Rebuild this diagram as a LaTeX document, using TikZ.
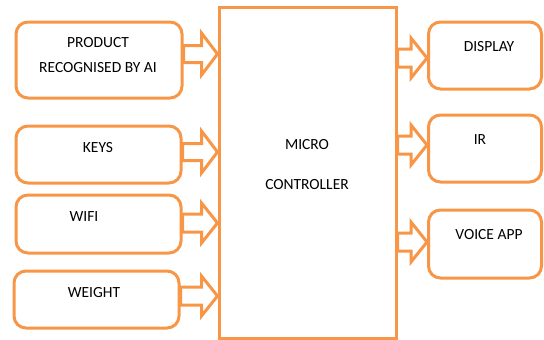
\documentclass[tikz,border=0pt]{standalone}
\usepackage{fontspec}
\setmainfont{Carlito}
\usetikzlibrary{calc}
\definecolor{org}{RGB}{247,150,70}
\newcommand\barrow[4]{% start, tip, head half-height, shaft half-height
  \draw[barrow] ($(#1)+(0,-#4)$) -- ($(#2)+(-16,-#4)$) -- ($(#2)+(-16,-#3)$) -- (#2)
    -- ($(#2)+(-16,#3)$) -- ($(#2)+(-16,#4)$) -- ($(#1)+(0,#4)$) -- cycle;}
\begin{document}
\begin{tikzpicture}[x=1pt,y=-1pt,
  box/.style={draw=org, line width=3pt, rounded corners=12pt, inner sep=0pt},
  lbl/.style={font=\fontsize{15.5}{25}\selectfont, text=black, inner sep=0pt, align=center},
  barrow/.style={draw=org, line width=3pt, line join=miter}]
\useasboundingbox (0,0) rectangle (544,340);
% boxes
\node[box, minimum width=166, minimum height=76] (prod) at (99,60) {};
\node[box, minimum width=165, minimum height=57] (keys) at (98.5,154.5) {};
\node[box, minimum width=165, minimum height=58] (wifi) at (98.5,224) {};
\node[box, minimum width=165, minimum height=57] (weight) at (96.5,299.5) {};
\node[draw=org, line width=3pt, minimum width=177, minimum height=331, inner sep=0pt] (mcu) at (307.5,172.5) {};
\node[box, minimum width=113, minimum height=67] (disp) at (485,55.5) {};
\node[box, minimum width=113, minimum height=67] (ir) at (485,148.5) {};
\node[box, minimum width=113, minimum height=68] (voice) at (485,244) {};
% labels
\node[lbl] (tprod) at (98,55.5) {PRODUCT\\RECOGNISED BY AI};
\node[lbl] (tkeys) at (98,148) {KEYS};
\node[lbl] (twifi) at (84,217) {WIFI};
\node[lbl] (tweight) at (94,293) {WEIGHT};
\node[lbl] (tmcu) at (307,164.5) {MICRO\\[15pt]CONTROLLER};
\node[lbl] (tdisp) at (489,47) {DISPLAY};
\node[lbl] (tir) at (480,140) {IR};
\node[lbl] (tvoice) at (489,235) {VOICE APP};
% arrows
\coordinate (a1s) at (prod.east |- 0,54);   \coordinate (a1t) at (mcu.west |- 0,54);
\coordinate (a2s) at (keys.east |- 0,152);  \coordinate (a2t) at (mcu.west |- 0,152);
\coordinate (a3s) at (wifi.east |- 0,223);  \coordinate (a3t) at (mcu.west |- 0,223);
\coordinate (a4s) at (weight.east |- 0,296);\coordinate (a4t) at (mcu.west |- 0,296);
\barrow{a1s}{a1t}{21}{8.5}
\barrow{a2s}{a2t}{21}{8.5}
\barrow{a3s}{a3t}{20}{9}
\barrow{a4s}{a4t}{20}{9}
\coordinate (b1s) at (mcu.east |- 0,58);  \coordinate (b1t) at (disp.west |- 0,58);
\coordinate (b2s) at (mcu.east |- 0,145); \coordinate (b2t) at (ir.west |- 0,145);
\coordinate (b3s) at (mcu.east |- 0,242); \coordinate (b3t) at (voice.west |- 0,242);
\barrow{b1s}{b1t}{20}{9}
\barrow{b2s}{b2t}{20}{9}
\barrow{b3s}{b3t}{20}{9}
\end{tikzpicture}
\end{document}
